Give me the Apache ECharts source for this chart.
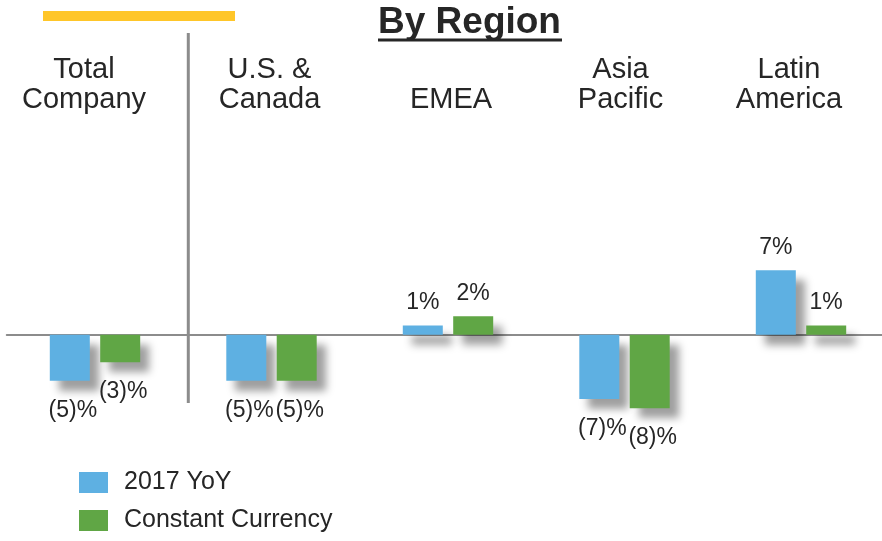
<!DOCTYPE html>
<html>
<head>
<meta charset="utf-8">
<script src="https://cdn.jsdelivr.net/npm/echarts@6/dist/echarts.min.js"></script>
<style>
  html, body { margin: 0; padding: 0; background: #fff; }
  #chart { width: 882px; height: 541px; }
</style>
</head>
<body>
<div id="chart"></div>
<script>
// data
const regions = ['Total\nCompany', 'U.S. &\nCanada', 'EMEA', 'Asia\nPacific', 'Latin\nAmerica'];
const yoy2017 = [-5, -5, 1, -7, 7];
const constantCurrency = [-3, -5, 2, -8, 1];
const seriesNames = ['2017 YoY', 'Constant Currency'];

// small shift of each region label (labels are not exactly centred on their bars)
const labelShift = [-11, -2, 3, -4, -12];

const FONT = 'Liberation Sans, Arial, sans-serif';
const TXT = '#262626';

const myChart = echarts.init(document.getElementById('chart'));

function pct(v) {
  return v < 0 ? '(' + (-v) + ')%' : v + '%';
}

function barData(values, dx) {
  return values.map(function (v) {
    return {
      value: v,
      label: v < 0
        ? { position: 'bottom', distance: 18, offset: [dx, 0] }
        : { position: 'top', distance: 11 }
    };
  });
}

const barShadow = {
  shadowBlur: 8,
  shadowOffsetX: 9,
  shadowOffsetY: 10,
  shadowColor: 'rgba(0,0,0,0.38)'
};

const labelStyle = {
  show: true,
  formatter: function (p) { return pct(p.value); },
  fontFamily: FONT,
  fontSize: 23,
  lineHeight: 23,
  color: TXT
};

let option = {
  animation: false,
  title: {
    text: 'By Region',
    left: 378,
    top: 4,
    padding: 0,
    textStyle: {
      fontFamily: FONT,
      fontWeight: 'bold',
      fontSize: 37,
      lineHeight: 37,
      color: TXT
    }
  },
  legend: {
    orient: 'vertical',
    left: 79,
    top: 470,
    padding: 0,
    itemWidth: 29,
    itemHeight: 21,
    itemGap: 13,
    icon: 'rect',
    data: seriesNames,
    textStyle: {
      fontFamily: FONT,
      fontSize: 25,
      lineHeight: 25,
      color: TXT,
      padding: [0, 0, 0, 11]
    }
  },
  grid: {
    left: 6.75,
    top: 242.7,
    width: 882.5,
    height: 184,
    containLabel: false,
    outerBoundsMode: 'none'
  },
  xAxis: {
    type: 'category',
    position: 'top',
    data: regions.map(function (r, i) {
      const s = labelShift[i];
      return {
        value: r,
        textStyle: { padding: s < 0 ? [0, -2 * s, 0, 0] : [0, 0, 0, 2 * s] }
      };
    }),
    axisTick: { show: false },
    axisLine: {
      onZero: true,
      lineStyle: { color: '#8c8c8c', width: 2 }
    },
    axisLabel: {
      interval: 0,
      margin: 128,
      fontFamily: FONT,
      fontSize: 29,
      lineHeight: 30,
      color: TXT
    }
  },
  yAxis: {
    type: 'value',
    show: false,
    min: -10,
    max: 10
  },
  series: [
    {
      name: seriesNames[0],
      type: 'bar',
      barWidth: 40,
      barGap: '26%',
      itemStyle: Object.assign({ color: '#5eb0e2' }, barShadow),
      label: labelStyle,
      data: barData(yoy2017, 3)
    },
    {
      name: seriesNames[1],
      type: 'bar',
      barWidth: 40,
      itemStyle: Object.assign({ color: '#60a645' }, barShadow),
      label: labelStyle,
      data: barData(constantCurrency, 3)
    }
  ],
  graphic: [
    // yellow accent bar
    { type: 'rect', shape: { x: 43, y: 11, width: 192, height: 10 }, style: { fill: '#ffc629' } },
    // title underline
    { type: 'rect', shape: { x: 378, y: 38.5, width: 184, height: 3 }, style: { fill: TXT } },
    // separator between total and regions
    { type: 'line', shape: { x1: 188.3, y1: 33, x2: 188.3, y2: 403 }, style: { stroke: '#8c8c8c', lineWidth: 3 } }
  ]
};

myChart.setOption(option);
</script>
</body>
</html>
